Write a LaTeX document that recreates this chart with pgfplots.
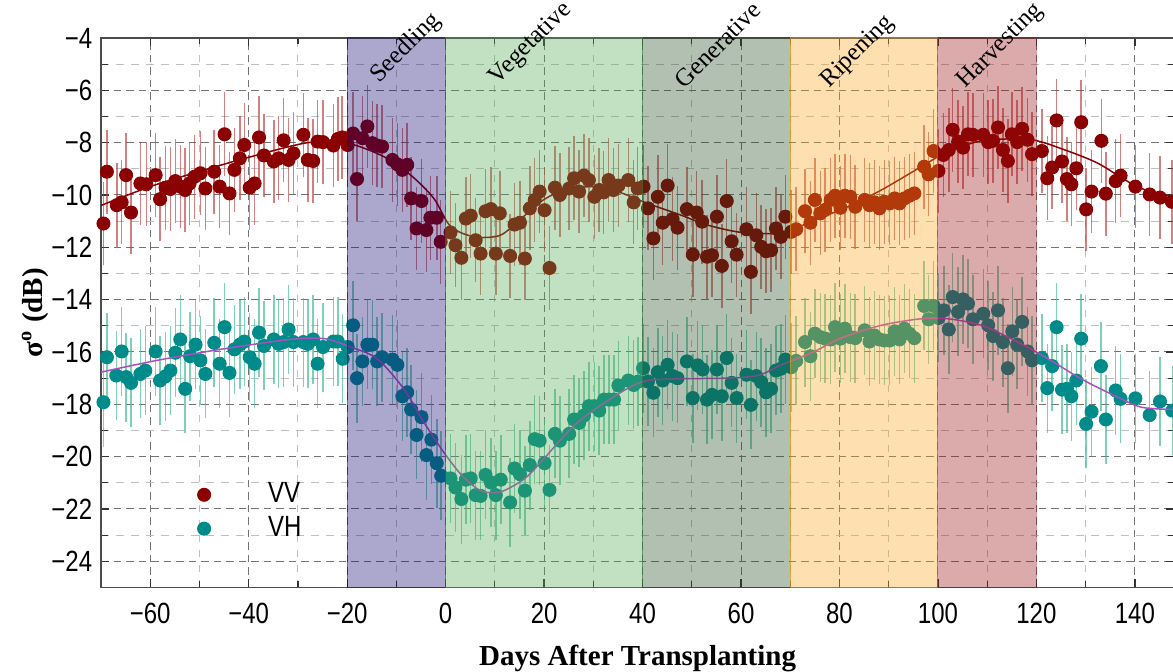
\documentclass[border=0pt]{standalone}
\usepackage{fontspec}
\setmainfont{Liberation Serif}
\setsansfont{Liberation Sans}
\newfontfamily\tickfont[FakeStretch=0.82]{Liberation Sans}
\usepackage{pgfplots}
\usepackage{pgfplotstable}
\pgfplotsset{compat=1.18}

\definecolor{vv}{RGB}{139,0,0}
\definecolor{vh}{RGB}{0,139,139}
\definecolor{vverr}{RGB}{190,60,60}
\definecolor{vherr}{RGB}{70,190,150}
\definecolor{vhfit}{RGB}{170,80,190}
\definecolor{seed}{RGB}{18,6,112}
\definecolor{veg}{RGB}{81,166,81}
\definecolor{gen}{RGB}{35,75,35}
\definecolor{rip}{RGB}{249,164,29}
\definecolor{harv}{RGB}{152,15,18}

% VV backscatter
\pgfplotstableread{
x y
-69.5 -11.09
-68.8 -9.11
-66.8 -10.39
-65.8 -10.28
-64.9 -9.24
-63.9 -10.67
-62.0 -9.56
-60.8 -9.59
-58.9 -9.24
-58.0 -10.16
-56.9 -9.72
-55.9 -9.77
-54.9 -9.47
-53.9 -9.68
-52.9 -9.81
-52.0 -9.56
-51.0 -9.30
-49.8 -9.17
-48.8 -9.75
-47.0 -9.11
-45.9 -9.68
-44.9 -7.68
-43.9 -9.94
-42.9 -9.04
-41.8 -8.60
-40.9 -8.09
-39.8 -9.72
-38.8 -9.56
-37.9 -7.80
-36.9 -8.49
-34.9 -8.72
-33.9 -8.60
-32.9 -7.91
-31.9 -8.66
-30.9 -8.41
-28.9 -7.70
-28.0 -8.66
-26.9 -8.70
-26.0 -7.96
-24.9 -7.98
-22.8 -8.11
-21.9 -7.86
-21.0 -7.80
-19.9 -8.09
-18.8 -7.65
-18.0 -9.39
-16.9 -7.83
-15.9 -7.38
-14.9 -8.02
-13.9 -8.11
-12.9 -8.15
-10.8 -8.66
-9.8 -8.83
-8.8 -9.04
-7.8 -8.85
-7.0 -10.13
-5.9 -11.28
-4.9 -10.23
-3.9 -11.34
-3.1 -10.87
-1.8 -10.87
-1.0 -11.79
1.0 -11.43
2.0 -11.92
3.2 -12.40
4.1 -10.90
5.1 -10.79
6.1 -11.73
7.1 -12.24
8.1 -10.62
9.2 -10.54
10.2 -12.24
11.0 -10.70
13.1 -12.33
14.0 -11.13
15.1 -11.06
16.1 -12.43
17.1 -10.51
18.1 -10.19
19.1 -9.87
20.1 -10.58
21.1 -12.79
22.2 -9.72
23.2 -10.00
25.1 -9.75
26.1 -9.36
27.1 -9.87
28.1 -9.26
29.1 -9.43
30.2 -10.07
31.2 -9.81
32.1 -9.90
33.1 -9.43
34.1 -9.81
35.1 -9.64
37.1 -9.43
38.2 -10.28
39.0 -9.75
40.2 -9.68
41.1 -10.51
42.2 -11.66
43.1 -10.07
44.1 -11.06
45.1 -9.64
46.1 -10.92
47.1 -11.25
49.0 -10.54
50.2 -12.28
51.0 -10.67
52.1 -11.02
53.1 -12.36
54.1 -12.30
55.1 -10.83
56.1 -12.71
57.1 -10.23
58.1 -11.77
59.1 -12.28
61.1 -11.31
62.0 -12.94
63.1 -11.54
64.1 -11.98
65.1 -12.15
66.1 -12.11
67.1 -11.28
68.1 -11.60
69.0 -10.83
70.2 -11.41
71.2 -11.31
73.0 -10.62
74.1 -11.06
75.0 -10.19
76.1 -10.70
77.1 -10.57
78.2 -10.19
79.1 -10.03
80.2 -10.49
81.1 -10.03
82.2 -10.07
83.2 -10.45
85.1 -10.19
86.1 -10.39
87.1 -10.28
88.1 -10.51
89.1 -10.26
90.2 -10.32
91.2 -10.13
92.2 -10.32
93.2 -10.13
94.2 -10.03
95.2 -9.94
97.2 -8.92
98.1 -9.21
99.1 -8.32
100.1 -9.08
101.1 -8.47
102.2 -8.28
103.0 -7.51
104.1 -7.96
105.1 -8.19
106.1 -7.68
107.1 -7.70
109.2 -7.70
110.2 -7.98
111.2 -7.93
112.2 -7.42
113.2 -8.28
114.2 -8.70
115.0 -7.68
116.1 -7.98
117.1 -7.47
118.2 -7.89
119.1 -8.44
121.1 -8.32
122.2 -9.36
123.2 -8.95
124.1 -7.15
125.2 -8.72
126.2 -9.39
127.1 -9.59
128.1 -8.98
129.1 -7.22
130.1 -10.55
131.2 -9.87
133.2 -7.93
134.1 -9.95
136.1 -9.47
137.1 -9.26
140.1 -9.68
143.0 -9.98
145.1 -10.10
147.5 -10.26
}\vvdata

% VH backscatter
\pgfplotstableread{
x y
-69.5 -17.92
-68.8 -16.20
-66.9 -16.90
-65.8 -15.98
-64.9 -16.96
-63.9 -17.18
-62.0 -16.84
-61.0 -16.71
-58.9 -15.98
-58.0 -17.09
-56.9 -16.93
-55.9 -16.71
-54.9 -16.03
-53.9 -15.52
-52.9 -17.41
-51.9 -16.16
-50.8 -15.72
-49.8 -16.32
-48.8 -16.84
-47.0 -15.65
-45.9 -16.45
-44.9 -15.05
-43.9 -16.80
-42.9 -15.90
-41.8 -15.72
-40.9 -15.60
-39.8 -16.20
-38.8 -16.45
-37.9 -15.26
-36.9 -15.77
-34.9 -15.52
-33.9 -15.69
-32.9 -15.62
-31.9 -15.14
-30.9 -15.62
-28.9 -15.62
-28.0 -15.69
-26.9 -15.52
-26.0 -16.45
-24.9 -15.81
-22.8 -15.60
-21.9 -15.60
-20.9 -16.26
-19.9 -15.81
-18.8 -14.98
-18.0 -17.00
-16.9 -16.36
-15.9 -15.72
-14.9 -15.72
-13.9 -16.36
-12.9 -16.20
-10.8 -16.29
-9.8 -16.49
-8.8 -17.69
-7.8 -17.54
-7.0 -18.20
-5.9 -19.17
-4.9 -18.49
-3.9 -19.94
-2.9 -19.35
-1.8 -20.25
-0.9 -20.73
1.0 -20.83
2.0 -21.18
3.2 -21.62
4.1 -20.88
5.1 -20.83
6.1 -21.47
7.1 -21.50
8.1 -20.70
9.2 -20.99
10.2 -21.47
11.2 -20.88
13.1 -21.75
14.0 -20.45
15.1 -20.67
16.1 -21.30
17.1 -20.32
18.1 -19.33
19.1 -19.39
20.1 -20.25
21.1 -21.27
22.2 -19.13
23.2 -19.39
25.1 -19.13
26.1 -18.58
27.1 -18.71
28.1 -18.43
29.1 -18.07
30.2 -18.07
31.2 -18.24
32.2 -17.82
33.2 -17.82
34.2 -17.82
35.1 -17.28
37.1 -17.09
38.2 -17.26
39.1 -17.13
40.1 -16.62
41.1 -17.13
42.2 -17.56
43.1 -16.77
44.1 -17.09
45.1 -16.49
46.1 -16.92
47.1 -17.00
49.0 -16.36
50.2 -17.76
51.2 -16.51
52.2 -16.67
53.1 -17.82
54.1 -17.64
55.1 -16.67
56.1 -17.69
57.1 -16.23
58.1 -17.18
59.1 -17.76
61.1 -16.87
62.0 -18.02
63.1 -16.92
64.1 -17.15
65.1 -17.54
66.1 -17.41
67.1 -16.71
68.1 -16.64
69.0 -16.29
70.2 -16.58
71.2 -16.34
73.0 -15.62
74.1 -16.16
75.0 -15.30
76.1 -15.43
77.1 -15.49
78.2 -15.52
79.1 -15.05
80.2 -15.49
81.1 -15.11
82.2 -15.43
83.2 -15.47
85.1 -15.17
86.1 -15.60
87.1 -15.37
88.1 -15.52
89.1 -15.56
90.2 -15.56
91.2 -15.21
92.2 -15.52
93.2 -15.11
94.2 -15.30
95.2 -15.47
97.2 -14.24
98.1 -14.75
99.1 -14.24
100.1 -14.70
101.2 -14.41
102.2 -15.14
103.0 -13.90
104.1 -14.47
105.1 -13.99
106.1 -14.15
107.1 -14.75
109.2 -14.54
110.2 -14.98
111.2 -15.39
112.2 -14.41
113.2 -15.62
114.2 -16.62
115.1 -15.21
116.1 -15.72
117.1 -14.85
118.2 -15.98
119.1 -16.32
121.1 -16.23
122.2 -17.38
123.2 -16.54
124.1 -15.05
125.2 -17.44
126.2 -17.41
127.1 -17.69
128.1 -17.09
129.1 -15.49
130.1 -18.75
131.2 -18.28
133.1 -16.54
134.1 -18.58
136.1 -17.47
137.1 -17.79
140.1 -17.77
143.0 -18.41
145.1 -17.89
147.6 -18.24
}\vhdata

\tikzset{stage/.style={rotate=45, font=\fontsize{10}{12}\selectfont}}

\begin{document}
\begin{tikzpicture}
\begin{axis}[
    name=ax,
    scale only axis,
    width=429.3pt, height=219.8pt,
    xmin=-70, xmax=148, ymin=-25, ymax=-4,
    xtick={-60,-40,...,140},
    xticklabels={−60,−40,−20,0,20,40,60,80,100,120,140},
    ytick={-24,-22,...,-4},
    yticklabels={−24,−22,−20,−18,−16,−14,−12,−10,−8,−6,−4},
    minor x tick num=1, minor y tick num=1,
    grid=both,
    major grid style={densely dashed, black!55, line width=0.4pt},
    minor grid style={dashed, black!25, line width=0.35pt},
    tick align=inside,
    major tick length=3.2pt, minor tick length=2.6pt,
    tick style={black!80, line width=0.5pt},
    axis line style={black!70, line width=0.6pt},
    tick label style={font=\tickfont\fontsize{11.7}{13}\selectfont},
    xticklabel style={yshift=-2.5pt},
    xlabel={Days After Transplanting},
    ylabel={σ\textsuperscript{o} (dB)},
    label style={font=\bfseries\fontsize{11.6}{14}\selectfont},
    xlabel style={at={(axis description cs:0.5,0)}, anchor=center, yshift=-28.2pt},
    ylabel style={at={(axis description cs:-0.0615,0.5)}, anchor=center},
    clip mode=individual,
    legend style={at={(axis cs:-52,-20.6)}, anchor=north west, draw=none, fill=none,
        font=\tickfont\fontsize{11.7}{13}\selectfont, row sep=0pt,
        /tikz/every odd column/.append style={column sep=21pt}},
    legend cell align=left,
]

\addplot[only marks, mark=*, mark size=2.6pt, vv, mark options={fill=vv, draw=none},
    error bars/.cd, y dir=both, y fixed=1.6, error mark=none,
    error bar style={vverr, opacity=0.65, line width=0.6pt}] table {\vvdata};

\addplot[only marks, mark=*, mark size=2.6pt, vh, mark options={fill=vh, draw=none},
    error bars/.cd, y dir=both, y fixed=1.7, error mark=none,
    error bar style={vherr, opacity=0.7, line width=0.6pt}] table {\vhdata};

% fitted curves
\addplot[vv, line width=0.6pt, smooth, tension=0.5, forget plot] coordinates {
(-70,-10.4) (-60,-9.68) (-50,-9.1) (-40,-8.56) (-28,-8.0) (-20,-8.02) (-12.6,-8.53)
(-7.1,-9.24) (-2.4,-10.13) (1,-11.2) (5.8,-11.6) (10.8,-11.56) (13.9,-11.15)
(19.3,-10.26) (23.4,-9.87) (29.5,-9.68) (34.9,-9.87) (41,-10.32) (47.8,-10.77)
(53.2,-11.15) (60,-11.43) (66.8,-11.47) (70.2,-11.34) (74.9,-10.96) (81.7,-10.45)
(88.5,-9.81) (96.6,-8.92) (100.7,-8.47) (105.4,-8.11) (110.2,-7.89) (119,-7.89)
(125.8,-8.28) (132.5,-8.79) (139.3,-9.56) (148,-10.3)};

\addplot[vhfit, line width=0.6pt, smooth, tension=0.5, forget plot] coordinates {
(-70,-16.77) (-58.6,-16.32) (-45.1,-15.88) (-31.5,-15.52) (-24.7,-15.49) (-19.3,-15.81)
(-13.9,-16.26) (-8.5,-17.41) (-4.4,-18.69) (-0.5,-19.8) (3.1,-20.67) (7.1,-21.30)
(11.2,-21.34) (15.9,-20.86) (19.3,-20.22) (26.1,-18.81) (32.9,-17.86) (39.7,-17.15)
(46.4,-17.03) (56.6,-17.0) (63.4,-16.9) (68.1,-16.5) (74.9,-15.98) (80.3,-15.47)
(88.5,-14.98) (96.6,-14.73) (102,-14.73) (108.8,-14.98) (115.6,-15.56) (122.4,-16.26)
(129.1,-17.03) (135.9,-17.67) (141.3,-18.11) (148,-18.2)};

% growth stages
\filldraw[fill=seed, draw=seed, fill opacity=0.35, draw opacity=0.4] (axis cs:-20,-25) rectangle (axis cs:0,-4);
\filldraw[fill=veg, draw=veg, fill opacity=0.35, draw opacity=0.4] (axis cs:0,-25) rectangle (axis cs:40,-4);
\filldraw[fill=gen, draw=gen, fill opacity=0.35, draw opacity=0.4] (axis cs:40,-25) rectangle (axis cs:70,-4);
\filldraw[fill=rip, draw=rip, fill opacity=0.35, draw opacity=0.5] (axis cs:70,-25) rectangle (axis cs:100,-4);
\filldraw[fill=harv, draw=harv, fill opacity=0.35, draw opacity=0.4] (axis cs:100,-25) rectangle (axis cs:120,-4);

\addlegendimage{legend image code/.code={
    \draw[vverr, line width=0.6pt] (0pt,-4.8pt)--(0pt,4.8pt);
    \fill[vv] (0pt,0pt) circle (2.6pt);}}
\addlegendentry{VV}
\addlegendimage{legend image code/.code={
    \draw[vherr, line width=0.6pt] (0pt,-4.8pt)--(0pt,4.8pt);
    \fill[vh] (0pt,0pt) circle (2.6pt);}}
\addlegendentry{VH}

\node[stage] at (axis cs:-8.1,-4.38) {Seedling};
\node[stage] at (axis cs:17.3,-4.23) {Vegetative};
\node[stage] at (axis cs:55.3,-4.27) {Generative};
\node[stage] at (axis cs:83.7,-4.53) {Ripening};
\node[stage] at (axis cs:112.7,-4.31) {Harvesting};
\end{axis}
\pgfresetboundingbox
\path[use as bounding box] ([xshift=-40.4pt,yshift=-33.8pt]ax.south west) rectangle ([xshift=-0.5pt,yshift=15.2pt]ax.north east);
\end{tikzpicture}
\end{document}
